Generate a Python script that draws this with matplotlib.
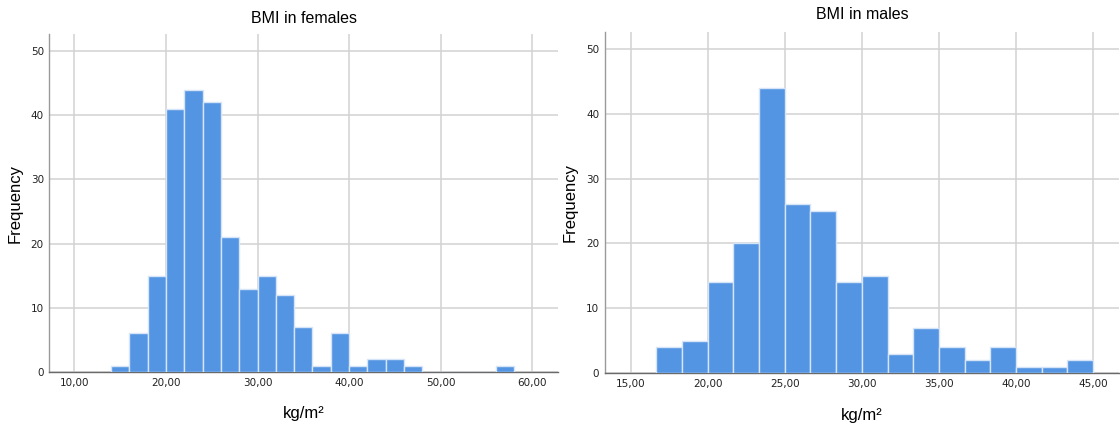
import numpy as np
import matplotlib
matplotlib.use('Agg')
import matplotlib.pyplot as plt

plt.rcParams['font.family'] = ['Liberation Sans', 'DejaVu Sans']

# female BMI histogram: bins of width 2 starting at 14
fem_edges_start = 14.0
fem_bin_width = 2.0
fem_counts = [1, 6, 15, 41, 44, 42, 21, 13, 15, 12, 7, 1, 6, 1, 2, 2, 1, 0, 0, 0, 0, 1]
fem_ticks = [10, 20, 30, 40, 50, 60]
fem_ticklabels = ['10,00', '20,00', '30,00', '40,00', '50,00', '60,00']

# male BMI histogram: 17 bins ending at 45
male_edges_start = 45.0 - 17 * (5.0 / 3.0)
male_bin_width = 5.0 / 3.0
male_counts = [4, 5, 14, 20, 44, 26, 25, 14, 15, 3, 7, 4, 2, 4, 1, 1, 2]
male_ticks = [15, 20, 25, 30, 35, 40, 45]
male_ticklabels = ['15,00', '20,00', '25,00', '30,00', '35,00', '40,00', '45,00']

y_ticks = [0, 10, 20, 30, 40, 50]

BAR_COLOR = '#5495e3'
EDGE_COLOR = '#d6e4f7'
GRID_COLOR = '#d2d2d2'


def desenhar(ax, start, width, counts, ticks, ticklabels, xlim, title, title_pad):
    lefts = start + width * np.arange(len(counts))
    ax.bar(lefts, counts, width=width, align='edge', color=BAR_COLOR,
           edgecolor=EDGE_COLOR, linewidth=1.0, zorder=3)
    ax.set_xlim(*xlim)
    ax.set_ylim(0, 52.6)
    ax.set_xticks(ticks)
    ax.set_xticklabels(ticklabels, family='DejaVu Sans')
    ax.set_yticks(y_ticks)
    ax.set_yticklabels([str(v) for v in y_ticks], family='DejaVu Sans')
    ax.grid(True, color=GRID_COLOR, linewidth=1.1, zorder=0)
    ax.set_axisbelow(True)
    for s in ['top', 'right']:
        ax.spines[s].set_visible(False)
    ax.spines['left'].set_color('#9a9a9a')
    ax.spines['bottom'].set_color('#6a6a6a')
    ax.spines['left'].set_linewidth(1.0)
    ax.spines['bottom'].set_linewidth(1.0)
    ax.tick_params(axis='both', length=0, labelsize=7.5, colors='#222222')
    ax.tick_params(axis='x', pad=4.5)
    ax.tick_params(axis='y', pad=4)
    ax.set_title(title, fontsize=11.5, pad=title_pad)
    ax.set_xlabel('kg/m\u00b2', fontsize=12, labelpad=13)
    ax.set_ylabel('Frequency', fontsize=12, labelpad=6)


fig = plt.figure(figsize=(11.2, 4.3), dpi=100)
ax1 = fig.add_axes([0.0441, 0.1349, 0.454, 0.785])
ax2 = fig.add_axes([0.540, 0.132, 0.459, 0.794])

desenhar(ax1, fem_edges_start, fem_bin_width, fem_counts, fem_ticks,
         fem_ticklabels, (7.27, 62.8), 'BMI in females', 8)
desenhar(ax2, male_edges_start, male_bin_width, male_counts, male_ticks,
         male_ticklabels, (13.33, 46.67), 'BMI in males', 9)

fig.savefig('out.png', dpi=100)
